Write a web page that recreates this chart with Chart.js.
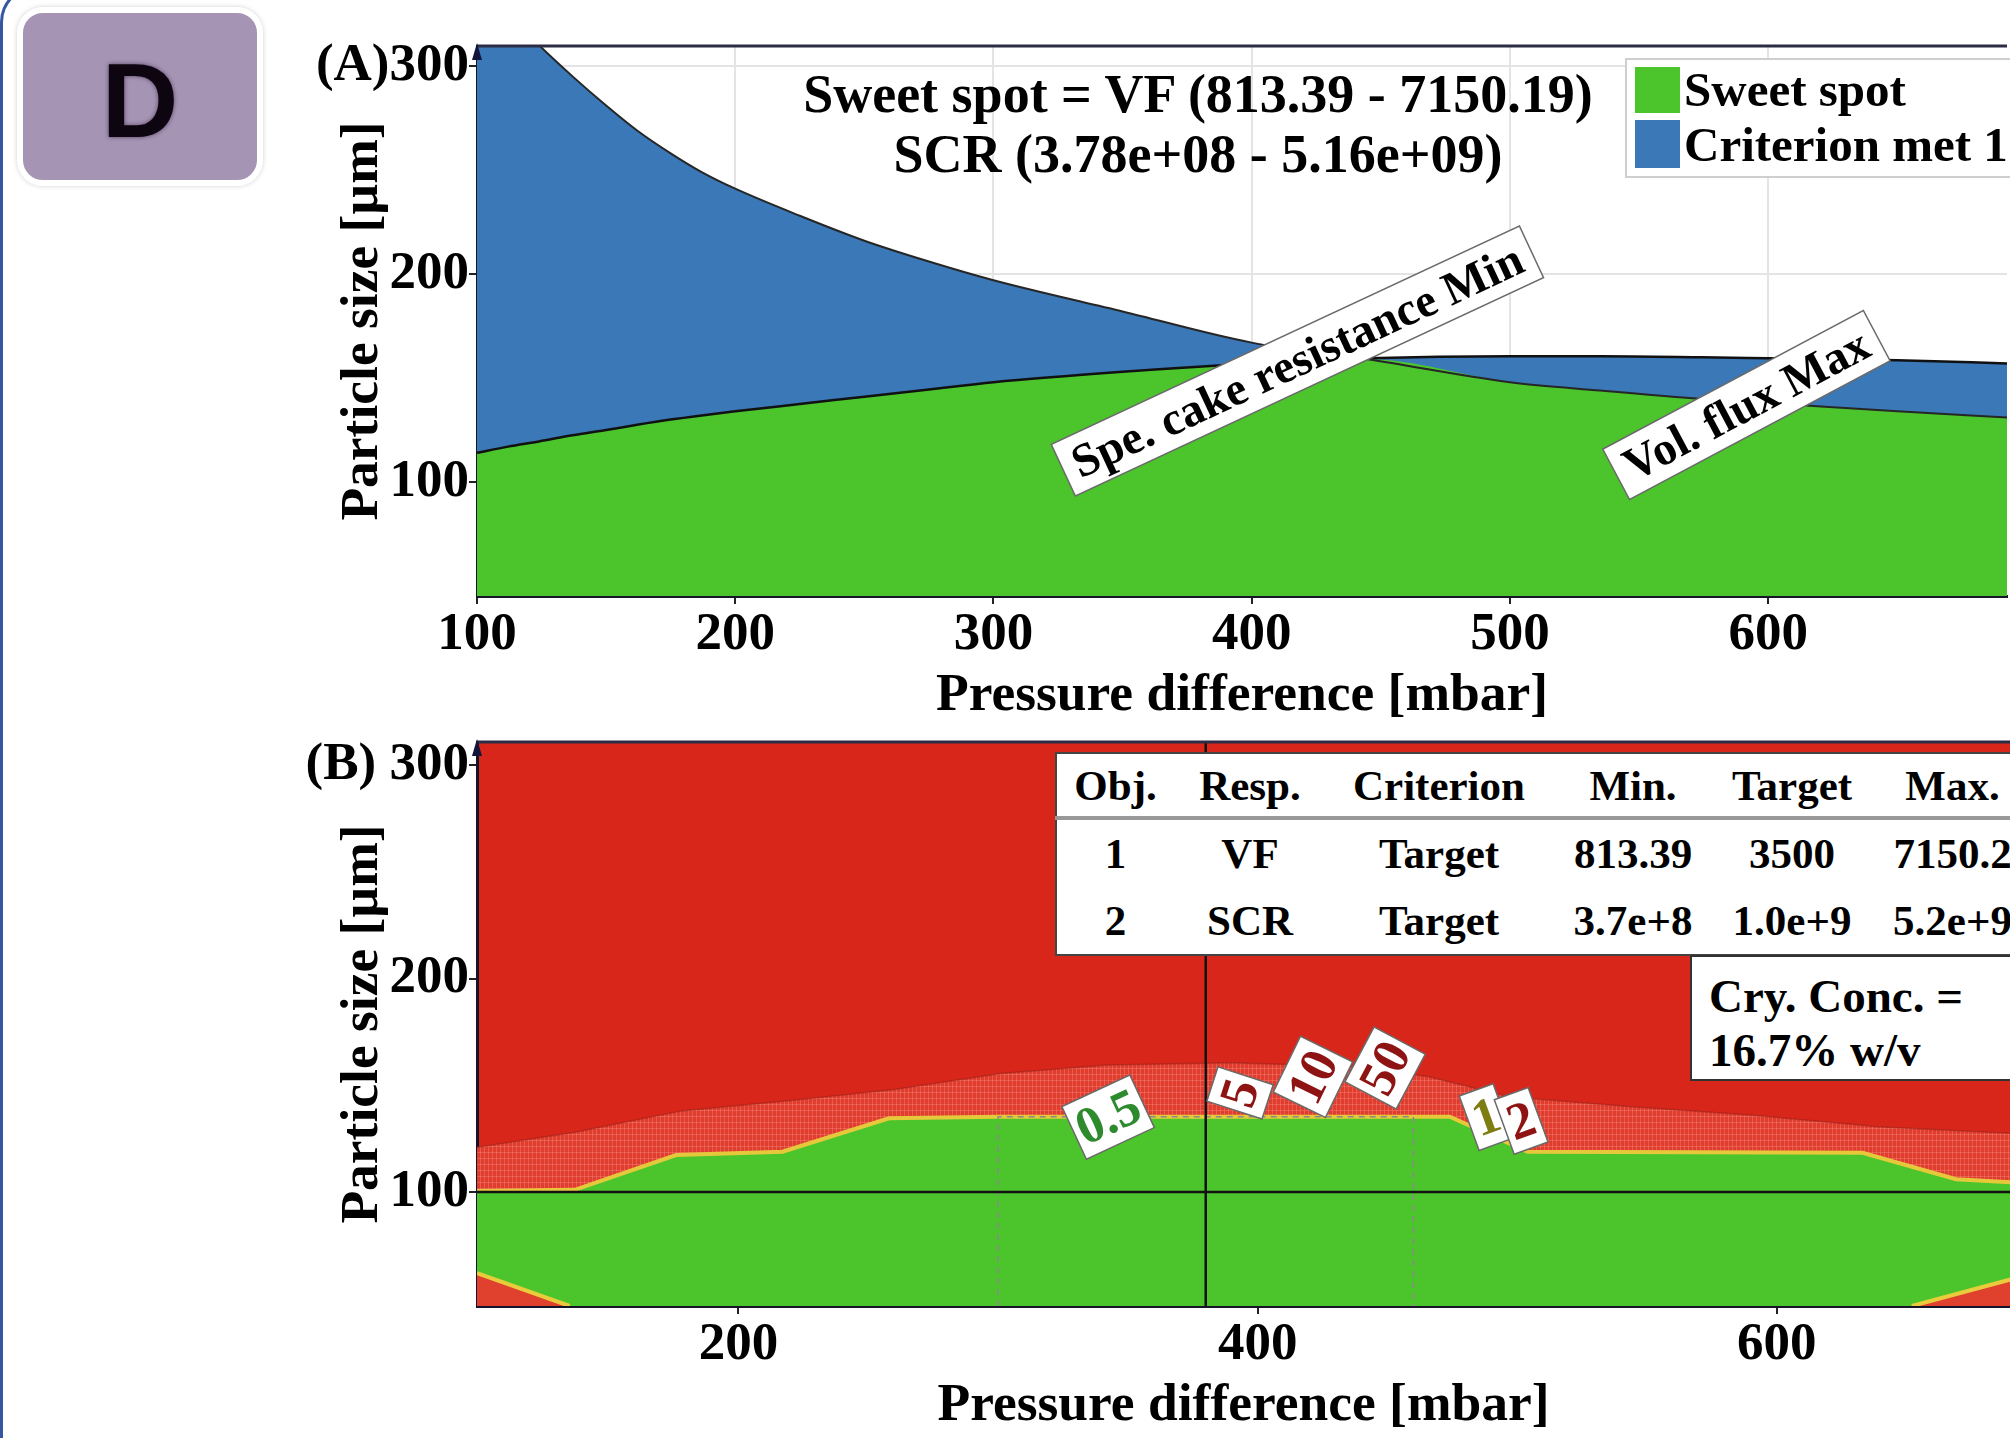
<!DOCTYPE html>
<html>
<head>
<meta charset="utf-8">
<title>Sweet spot plot</title>
<script src="https://cdn.jsdelivr.net/npm/chart.js@4.4.1/dist/chart.umd.min.js"></script>
<style>
  body { margin: 0; width: 2010px; height: 1438px; overflow: hidden; background: #fff; position: relative;
         font-family: "Liberation Serif", "Times New Roman", serif; font-weight: bold; color: #000; }
  canvas { position: absolute; left: 0; }
  #chartA { top: 0; }
  #chartB { top: 690px; }
  #frameLine { position: absolute; left: 0; top: -14px; width: 80px; height: 1500px;
               border-left: 3px solid #3556a0; border-top: 3px solid #3556a0; border-top-left-radius: 36px; }
  #badge { position: absolute; left: 17px; top: 7px; width: 234px; height: 167px; background: #a594b3;
           border: 6px solid #fff; border-radius: 26px; box-shadow: 0 0 5px rgba(0,0,0,0.18);
           display: flex; align-items: center; justify-content: center; }
  #badge span { font: bold 106px "Liberation Sans", Arial, sans-serif; color: #0d0610; margin-top: 8px;
                text-shadow: 0 0 4px rgba(40,10,50,0.6); }
  .summary { position: absolute; left: 698px; width: 1000px; text-align: center; font-size: 54px; line-height: 60px; white-space: nowrap; }
  #legendA { position: absolute; left: 1625px; top: 58px; width: 420px; height: 116px; background: #fff; border: 2px solid #cfcfcf; }
  #legendA .sw { position: absolute; left: 8px; width: 45px; }
  #legendA .lb { position: absolute; left: 57px; font-size: 49px; line-height: 54px; white-space: nowrap; }
  #crit { position: absolute; left: 1055px; top: 752px; width: 980px; table-layout: fixed; border-collapse: collapse;
          background: #fff; border: 2px solid #444; font-size: 43px; }
  #crit td { padding: 0; text-align: center; white-space: nowrap; overflow: hidden; }
  #crit tr.head td { height: 62px; border-bottom: 4px solid #999; }
  #crit tr.row td { height: 67px; }
  #conc { position: absolute; left: 1690px; top: 955px; width: 360px; height: 126px; background: #fff; border: 2px solid #333;
          font-size: 47px; line-height: 54px; padding: 12px 0 0 17px; box-sizing: border-box; white-space: nowrap; }
</style>
</head>
<body>
<div id="frameLine"></div>
<canvas id="chartA" width="2010" height="730"></canvas>
<canvas id="chartB" width="2010" height="748"></canvas>

<div id="badge"><span>D</span></div>

<div class="summary" style="top:64px">Sweet spot = VF (813.39 - 7150.19)</div>
<div class="summary" style="top:124px">SCR (3.78e+08 - 5.16e+09)</div>

<div id="legendA">
  <div class="sw" style="top:7px;height:46px;background:#4cc42c"></div>
  <div class="lb" style="top:3px">Sweet spot</div>
  <div class="sw" style="top:60px;height:48px;background:#3a78b8"></div>
  <div class="lb" style="top:58px">Criterion met 1</div>
</div>

<table id="crit">
  <colgroup><col style="width:118px"><col style="width:152px"><col style="width:226px"><col style="width:162px"><col style="width:156px"><col style="width:166px"></colgroup>
  <tr class="head"><td>Obj.</td><td>Resp.</td><td>Criterion</td><td>Min.</td><td>Target</td><td>Max.</td></tr>
  <tr class="row"><td>1</td><td>VF</td><td>Target</td><td>813.39</td><td>3500</td><td>7150.2</td></tr>
  <tr class="row"><td>2</td><td>SCR</td><td>Target</td><td>3.7e+8</td><td>1.0e+9</td><td>5.2e+9</td></tr>
</table>

<div id="conc">Cry. Conc. =<br>16.7% w/v</div>

<script>
// ---- Panel A: criterion boundaries (particle size limit vs pressure) ----
const pressureA = [100, 112, 124, 137, 150, 162, 175, 187, 200, 225, 250, 275, 300, 350, 400, 445, 500, 535, 574, 600, 650, 693];
const vfLimit   = [340, 325, 310, 295, 281, 269, 258, 249, 241, 228, 216, 206, 197, 182, 167, 159, 148, 144, 140, 138, 134, 131];
const scrLimit  = [114, 117, 119.5, 122.5, 125, 127.5, 130, 132, 134, 137.5, 141, 144.5, 148, 153, 157, 159.5, 160.5, 160.5, 160, 159.5, 158.5, 157];
const xTicksA = [100, 200, 300, 400, 500, 600];
const yTicks = [100, 200, 300];

// ---- Panel B: desirability contour edges ----
const edgeP = [99.3, 137, 176, 217, 258, 300, 392, 474, 504, 633, 669, 690];
const edgeD = [100.5, 101, 117.3, 118.9, 134.5, 135.3, 135.3, 135.3, 118.9, 118.4, 106, 104.5];
const bandP = [99.3, 137, 178, 221, 260, 301, 342, 390, 439, 466, 497, 543, 591, 639, 690];
const bandD = [121, 128, 138, 143, 148, 155.5, 159.5, 160.5, 158.7, 154, 144.6, 140, 136, 130.6, 127.5];
const cornerLP = [99.3, 135];
const cornerLD = [62, 46.6];
const cornerRP = [652, 690];
const cornerRD = [46.6, 59];
const windowP = [300, 300, 460, 460];
const windowD = [46.6, 135.3, 135.3, 46.6];
const setPoint = [380, 100];
const xTicksB = [200, 400, 600];

const curveTags = ['Spe. cake resistance Min', 'Vol. flux Max'];
const levelTags = ['0.5', '5', '10', '50', '1', '2'];

// label placement (data coords) and look, kept apart from the data
const curveTagPos = { p: [417.7, 591.6], d: [158.2, 137], angle: [-25, -28] };
const levelTagPos = { p: [342.4, 393.2, 421.3, 449.1, 488, 501.5], d: [135.1, 146.4, 153.9, 158.1, 135.1, 133.3],
                      angle: [-25, -72, -64, -62, -20, -20],
                      color: ['#2d8a2d', '#8e1414', '#8e1414', '#8e1414', '#7d7d12', '#8e1414'] };

const serif = "'Liberation Serif', 'Times New Roman', serif";
const tickFont = { family: serif, size: 53, weight: 'bold' };
const titleFont = { family: serif, size: 53.5, weight: 'bold' };
const pts = (xs, ys) => xs.map((x, i) => ({ x: x, y: ys[i] }));

function hatch() {
    const c = document.createElement('canvas');
    c.width = 4; c.height = 6;
    const g = c.getContext('2d');
    g.fillStyle = '#e03d2e';
    g.fillRect(0, 0, 4, 6);
    g.fillStyle = 'rgba(250,150,140,0.35)';
    g.fillRect(0, 0, 1, 6);
    g.fillRect(0, 0, 4, 1);
    return g.createPattern(c, 'repeat');
}

// top border + arrow on the y axis, optional plot background
function framePlugin(bg) {
    return {
        id: 'frame',
        beforeDraw(chart) {
            if (!bg) return;
            const { ctx, chartArea: a } = chart;
            ctx.save();
            ctx.fillStyle = bg;
            ctx.fillRect(a.left, a.top, a.right - a.left, a.bottom - a.top);
            ctx.restore();
        },
        afterDraw(chart) {
            const { ctx, chartArea: a } = chart;
            ctx.save();
            ctx.strokeStyle = '#2c2c44';
            ctx.lineWidth = 3;
            ctx.beginPath(); ctx.moveTo(a.left, a.top); ctx.lineTo(a.right, a.top); ctx.stroke();
            ctx.fillStyle = '#14143a';
            ctx.beginPath();
            ctx.moveTo(a.left - 5, a.top + 14); ctx.lineTo(a.left, a.top - 3); ctx.lineTo(a.left + 5, a.top + 14);
            ctx.closePath(); ctx.fill();
            ctx.restore();
        }
    };
}

// rotated white label boxes anchored on data coordinates
function tagPlugin(texts, pos, size, height, padX) {
    return {
        id: 'tags',
        afterDatasetsDraw(chart) {
            const { ctx, scales: { x, y } } = chart;
            texts.forEach((t, i) => {
                ctx.save();
                ctx.translate(x.getPixelForValue(pos.p[i]), y.getPixelForValue(pos.d[i]));
                ctx.rotate(pos.angle[i] * Math.PI / 180);
                ctx.font = 'bold ' + size + 'px ' + serif;
                const w = ctx.measureText(t).width + padX * 2;
                ctx.fillStyle = '#fff';
                ctx.fillRect(-w / 2, -height / 2, w, height);
                ctx.strokeStyle = '#6a6a6a';
                ctx.lineWidth = 1.5;
                ctx.strokeRect(-w / 2, -height / 2, w, height);
                ctx.fillStyle = pos.color ? pos.color[i] : '#000';
                ctx.textAlign = 'center';
                ctx.textBaseline = 'middle';
                ctx.fillText(t, 0, 3);
                ctx.restore();
            });
        }
    };
}

// crosshair at the chosen setting
const crossPlugin = {
    id: 'cross',
    afterDatasetsDraw(chart) {
        const { ctx, chartArea: a, scales: { x, y } } = chart;
        const px = x.getPixelForValue(setPoint[0]), py = y.getPixelForValue(setPoint[1]);
        ctx.save();
        ctx.strokeStyle = '#111';
        ctx.lineWidth = 2.5;
        ctx.beginPath();
        ctx.moveTo(px, a.top); ctx.lineTo(px, a.bottom);
        ctx.moveTo(a.left, py); ctx.lineTo(a.right, py);
        ctx.stroke();
        ctx.restore();
    }
};

function axisX(min, max, ticks, height, titlePadBottom, onArea) {
    return {
        type: 'linear', min: min, max: max,
        afterBuildTicks: s => { s.ticks = ticks.map(v => ({ value: v })); },
        afterFit: s => { s.height = height; },
        grid: { drawOnChartArea: onArea, color: '#e4e4e4', lineWidth: 2, tickLength: 8, tickColor: '#222', tickWidth: 2 },
        border: { display: true, color: '#15152a', width: 3 },
        ticks: { font: tickFont, color: '#000', padding: 0, maxRotation: 0, autoSkip: false },
        title: { display: true, text: 'Pressure difference [mbar]', font: titleFont, color: '#000', padding: { top: 0, bottom: titlePadBottom } }
    };
}

function axisY(min, max, tag, onArea) {
    return {
        type: 'linear', min: min, max: max,
        afterBuildTicks: s => { s.ticks = yTicks.map(v => ({ value: v })); },
        afterFit: s => { s.width = 477; },
        grid: { drawOnChartArea: onArea, color: '#e4e4e4', lineWidth: 2, tickLength: 8, tickColor: '#222', tickWidth: 2 },
        border: { display: true, color: '#15152a', width: 3 },
        ticks: { font: tickFont, color: '#000', padding: 0, callback: v => v === 300 ? tag + '300' : String(v) },
        title: { display: true, text: 'Particle size [\u00b5m]', font: titleFont, color: '#000', padding: { top: 331, bottom: 0 } }
    };
}

const common = {
    responsive: false,
    animation: false,
    events: [],
    plugins: { legend: { display: false }, tooltip: { enabled: false } }
};

// Panel A: sweet spot plot
new Chart(document.getElementById('chartA'), {
    type: 'line',
    data: {
        datasets: [
            { data: pts(pressureA, vfLimit), borderColor: '#262626', borderWidth: 2, pointRadius: 0, fill: false, cubicInterpolationMode: 'monotone' },
            { data: pts(pressureA, scrLimit), borderColor: '#111', borderWidth: 2.5, pointRadius: 0, fill: false, cubicInterpolationMode: 'monotone' },
            { label: 'Sweet spot', data: pressureA.map((p, i) => ({ x: p, y: Math.min(vfLimit[i], scrLimit[i]) })),
              backgroundColor: '#4cc42c', borderWidth: 0, pointRadius: 0, fill: 'start', cubicInterpolationMode: 'monotone' },
            { label: 'Criterion met 1', data: pressureA.map((p, i) => ({ x: p, y: Math.max(vfLimit[i], scrLimit[i]) })),
              backgroundColor: '#3a78b8', borderWidth: 0, pointRadius: 0, fill: 'start', cubicInterpolationMode: 'monotone' }
        ]
    },
    options: Object.assign({}, common, {
        layout: { padding: { left: 0, top: 46, right: 3, bottom: 0 } },
        scales: { x: axisX(100, 692.5, xTicksA, 134, 2, true), y: axisY(45.2, 309.6, '(A)', true) }
    }),
    plugins: [framePlugin(null), tagPlugin(curveTags, curveTagPos, 47, 57, 12)]
});

// Panel B: overlay contour plot
new Chart(document.getElementById('chartB'), {
    type: 'line',
    data: {
        datasets: [
            { data: pts(windowP, windowD), borderColor: '#8a8a8a', borderWidth: 1.5, borderDash: [6, 5], pointRadius: 0, fill: false },
            { data: pts(cornerLP, cornerLD), backgroundColor: '#e0402e', borderColor: '#e8cc3c', borderWidth: 4, pointRadius: 0, fill: 'start' },
            { data: pts(cornerRP, cornerRD), backgroundColor: '#e0402e', borderColor: '#e8cc3c', borderWidth: 4, pointRadius: 0, fill: 'start' },
            { data: pts(edgeP, edgeD), backgroundColor: '#4cc52c', borderColor: '#e6c93a', borderWidth: 4, pointRadius: 0, fill: 'start' },
            { data: pts(bandP, bandD), backgroundColor: hatch(), borderColor: 'rgba(140,30,25,0.45)', borderWidth: 1.5, pointRadius: 0, fill: 'start' }
        ]
    },
    options: Object.assign({}, common, {
        layout: { padding: { left: 0, top: 52, right: 0, bottom: 0 } },
        scales: { x: axisX(99.3, 689.8, xTicksB, 132, 0, false), y: axisY(46.6, 310.8, '(B) ', false) }
    }),
    plugins: [framePlugin('#d9261a'), crossPlugin, tagPlugin(levelTags, levelTagPos, 52, 58, 5)]
});
</script>
</body>
</html>
